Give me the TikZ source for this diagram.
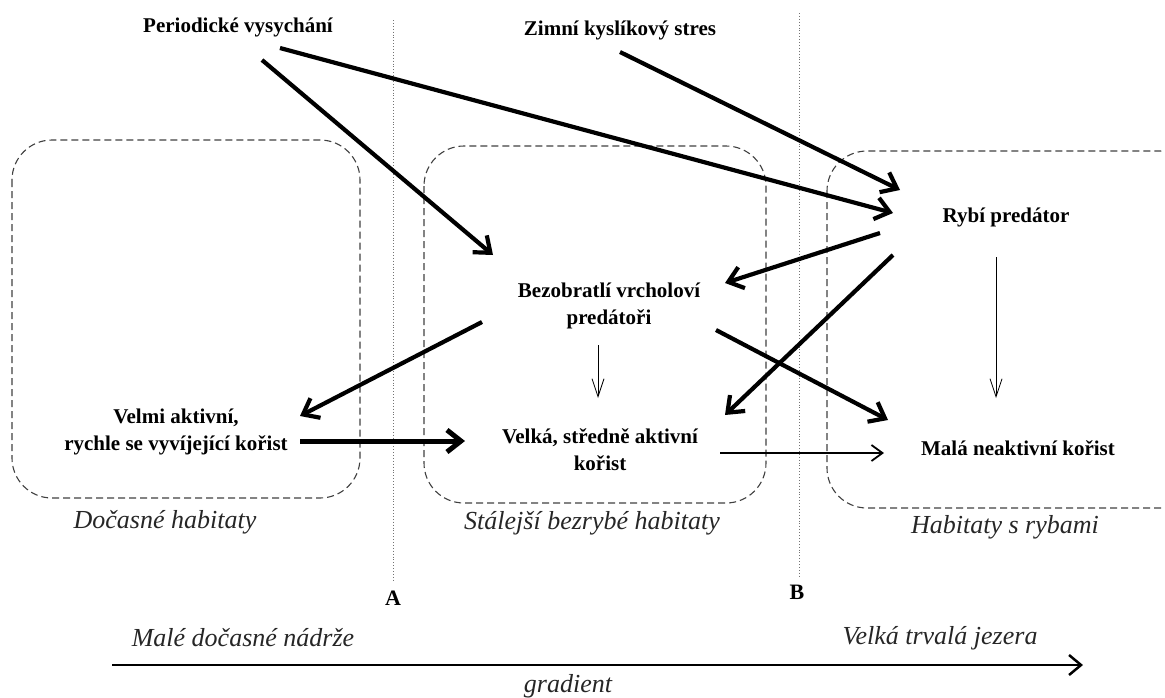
\documentclass[tikz,border=0pt]{standalone}
\usepackage{fontspec}
\setmainfont{Liberation Serif}
\usetikzlibrary{arrows.meta}
\begin{document}
\begin{tikzpicture}[x=1pt,y=-1pt,
 lbl/.style={font=\bfseries\fontsize{21}{27}\selectfont, align=center, text=black, inner sep=0pt},
 hab/.style={font=\itshape\fontsize{26}{30}\selectfont, text=black!85, inner sep=0pt},
 habbox/.style={draw=black!75, dash pattern=on 7pt off 4pt, line width=1.1pt, rounded corners=40pt},
 sepline/.style={draw=black!55, dotted, line width=0.9pt},
 bigarrow/.style={-{Straight Barb[length=14pt,width=22pt]}, line width=4.2pt},
 thinarrow/.style={-{Straight Barb[length=18pt,width=12pt]}, line width=0.8pt},
 midarrow/.style={-{Straight Barb[length=11pt,width=16pt]}, line width=1.8pt},
]
\useasboundingbox (0,0) rectangle (1165,697);
% habitat boxes
\draw[habbox] (12,140) rectangle (360,498);
\draw[habbox] (424,146) rectangle (766,503);
\draw[habbox] (827,151) rectangle (1200,508);
% separators
\coordinate (a1) at (393,20); \coordinate (a2) at (393,580);
\coordinate (b1) at (799,13); \coordinate (b2) at (799,577);
\draw[sepline] (a1) -- (a2);
\draw[sepline] (b1) -- (b2);
\node[font=\bfseries\fontsize{22}{24}\selectfont] (A) at (393,598) {A};
\node[font=\bfseries\fontsize{22}{24}\selectfont] (B) at (797,592) {B};
% nodes
\node[lbl] (peri) at (238,27) {Periodické vysychání};
\node[lbl] (zimni) at (620,30) {Zimní kyslíkový stres};
\node[lbl] (ryba) at (1006,217) {Rybí predátor};
\node[lbl] (bezo) at (609,306) {Bezobratlí vrcholoví\\predátoři};
\node[lbl] (velmi) at (176,432) {Velmi aktivní,\\rychle se vyvíjející kořist};
\node[lbl] (velka) at (600,450) {Velká, středně aktivní\\kořist};
\node[lbl] (mala) at (1018,448) {Malá neaktivní kořist};
% habitat labels
\node[hab] (h1) at (165,522) {Dočasné habitaty};
\node[hab] (h2) at (592,523) {Stálejší bezrybé habitaty};
\node[hab] (h3) at (1005,527) {Habitaty s rybami};
% gradient
\node[hab] (g1) at (243,638) {Malé dočasné nádrže};
\node[hab] (g2) at (940,638) {Velká trvalá jezera};
\node[hab] (g3) at (568,686) {gradient};
\coordinate (gs) at (112,665); \coordinate (ge) at (1083,665);
\draw[-{Straight Barb[length=12pt,width=20pt]}, line width=2.5pt] (gs) -- (ge);
% arrows
\coordinate (p1s) at (262,60); \coordinate (p1e) at (493,255);
\coordinate (p2s) at (280,48); \coordinate (p2e) at (893,213);
\coordinate (z1s) at (620,52); \coordinate (z1e) at (900,190);
\coordinate (r1s) at (880,233); \coordinate (r1e) at (725,283);
\coordinate (r2s) at (893,255); \coordinate (r2e) at (725,415);
\coordinate (b1s) at (482,322); \coordinate (b1e) at (300,416);
\coordinate (b2s) at (716,330); \coordinate (b2e) at (888,420);
\coordinate (v1s) at (300,441); \coordinate (v1e) at (465,441);
\coordinate (k1s) at (720,453); \coordinate (k1e) at (884,453);
\coordinate (d1s) at (598,345); \coordinate (d1e) at (598,398);
\coordinate (d2s) at (996,257); \coordinate (d2e) at (996,398);
\draw[bigarrow] (p1s) -- (p1e);
\draw[bigarrow] (p2s) -- (p2e);
\draw[bigarrow] (z1s) -- (z1e);
\draw[bigarrow] (r1s) -- (r1e);
\draw[bigarrow] (r2s) -- (r2e);
\draw[bigarrow] (b1s) -- (b1e);
\draw[bigarrow] (b2s) -- (b2e);
\draw[bigarrow, line width=5pt] (v1s) -- (v1e);
\draw[midarrow] (k1s) -- (k1e);
\draw[thinarrow] (d1s) -- (d1e);
\draw[thinarrow] (d2s) -- (d2e);
\end{tikzpicture}
\end{document}
